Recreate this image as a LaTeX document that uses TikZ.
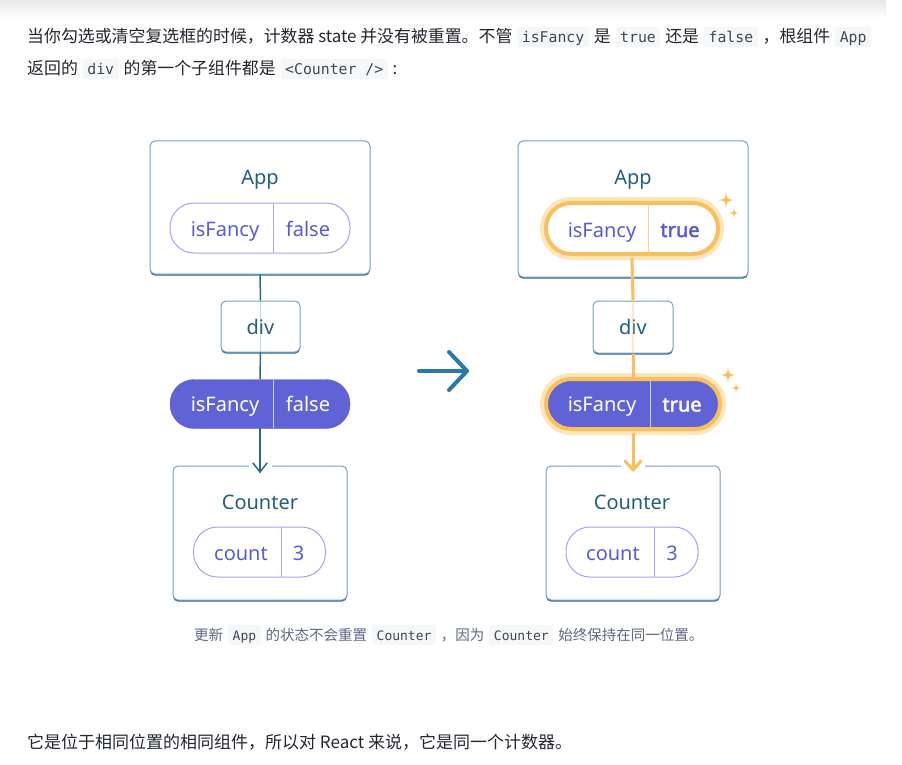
\documentclass[tikz,border=0pt]{standalone}
\usepackage{fontspec}
\usetikzlibrary{shadows}
\newfontfamily\cjk{Noto Sans CJK SC}
\newfontfamily\dg{Noto Sans}
\newfontfamily\dgb[FakeBold=2.2]{Noto Sans}
\newfontfamily\mono{DejaVu Sans Mono}
\definecolor{bodyc}{RGB}{35,39,47}
\definecolor{capc}{RGB}{94,104,126}
\definecolor{codebg}{RGB}{246,247,249}
\definecolor{codec}{RGB}{64,70,84}
\definecolor{boxc}{RGB}{125,160,190}
\definecolor{boxdark}{RGB}{40,105,140}
\definecolor{titlec}{RGB}{35,95,125}
\definecolor{linec}{RGB}{40,105,140}
\definecolor{arrc}{RGB}{42,120,166}
\definecolor{pillc}{RGB}{165,165,232}
\definecolor{purpc}{RGB}{88,92,212}
\definecolor{pfill}{RGB}{95,99,214}
\definecolor{orangec}{RGB}{251,190,92}
\definecolor{glowc}{RGB}{254,230,185}
\newcommand\codeA[1]{\hspace{5pt}{\setlength{\fboxsep}{0pt}\colorbox{codebg}{\hspace{4.5pt}\rule[-4pt]{0pt}{20pt}{\mono\fontsize{14.8}{16}\selectfont\color{codec}#1}\hspace{4.5pt}}}\hspace{5pt}}
\newcommand\codeB[1]{\hspace{5pt}{\setlength{\fboxsep}{0pt}\colorbox{codebg}{\hspace{4.5pt}\rule[-5pt]{0pt}{20pt}{\mono\fontsize{13}{14}\selectfont\color{codec}#1}\hspace{4.5pt}}}\hspace{5pt}}
\tikzset{
  box/.style={draw=boxc, line width=1pt, fill=white, rounded corners=5pt, inner sep=0pt,
    general shadow={fill=boxdark, shadow yshift=-1.6pt}},
  title/.style={font=\dg\fontsize{20}{22}\selectfont, text=titlec, inner sep=0pt, anchor=base},
  pill/.style={draw=pillc, line width=1pt, rounded corners=24pt, inner sep=0pt},
  glowring/.style={preaction={draw=glowc, line width=12pt}, draw=orangec, line width=4pt},
  lbl/.style={font=\dg\fontsize{20}{22}\selectfont, text=purpc, inner sep=0pt, anchor=base},
  lblb/.style={font=\dgb\fontsize{20}{22}\selectfont, text=purpc, inner sep=0pt, anchor=base},
  lblw/.style={font=\dg\fontsize{20}{22}\selectfont, text=white, inner sep=0pt, anchor=base},
  lblwb/.style={font=\dgb\fontsize{20}{22}\selectfont, text=white, inner sep=0pt, anchor=base},
  conn/.style={draw=linec, line width=1.5pt},
  oconn/.style={draw=orangec, line width=3pt},
  sparkle/.pic={\fill[orangec] (0,-1) .. controls (0.12,-0.12) .. (1,0) .. controls (0.12,0.12) .. (0,1) .. controls (-0.12,0.12) .. (-1,0) .. controls (-0.12,-0.12) .. (0,-1) -- cycle;}
}
\begin{document}
\begin{tikzpicture}[x=1pt,y=-1pt]
\useasboundingbox (0,0) rectangle (902,765);
\fill[white] (0,0) rectangle (902,765);
\shade[top color=black!9, bottom color=white] (0,0) rectangle (886,18);

% text
\node[anchor=base west, inner sep=0pt, font=\cjk\fontsize{16.9}{20}\selectfont, text=bodyc] (t1) at (27,43)
 {当你勾选或清空复选框的时候，计数器 state 并没有被重置。不管\codeA{isFancy}是\codeA{true}还是\codeA{false}，根组件\codeA{App}};
\node[anchor=base west, inner sep=0pt, font=\cjk\fontsize{16.9}{20}\selectfont, text=bodyc] (t2) at (27,75)
 {返回的\codeA{div}的第一个子组件都是\codeA{<Counter />}:};
\node[anchor=base west, inner sep=0pt, font=\cjk\fontsize{14.5}{16}\selectfont, text=capc] (cap) at (194,640)
 {更新\codeB{App}的状态不会重置\codeB{Counter}，因为\codeB{Counter}始终保持在同一位置。};
\node[anchor=base west, inner sep=0pt, font=\cjk\fontsize{17}{20}\selectfont, text=bodyc] (t3) at (27,748)
 {它是位于相同位置的相同组件，所以对 React 来说，它是同一个计数器。};

% ---------- left ----------
\node[box, minimum width=220pt, minimum height=133pt] (appL) at (260,207.5) {};
\node[title] (appLt) at (260,184) {App};
\node[pill, minimum width=180pt, minimum height=50pt] (pL1) at (260,228) {};
\draw[pillc, line width=1pt] (273,203) coordinate (dL1a) -- (273,253) coordinate (dL1b);
\node[lbl] (pL1a) at (225,236) {isFancy};
\node[lbl] (pL1b) at (308,236) {false};

\node[box, minimum width=79pt, minimum height=51pt] (divL) at (260.5,326.5) {};
\node[title] (divLt) at (260.5,334) {div};
\draw[conn] (appL.south) -- (divL.north);
\draw[linec, line width=1.2pt, opacity=0.25] (divL.north) -- (divL.south);

\node[fill=pfill, draw=pfill, rounded corners=24pt, inner sep=0pt, minimum width=180pt, minimum height=49pt] (pL2) at (260,404) {};
\draw[white!70!pfill, line width=1pt] (273,380) -- (273,428);
\node[lblw] (pL2a) at (225,411.5) {isFancy};
\node[lblw] (pL2b) at (308,411.5) {false};
\draw[conn] (divL.south) -- (pL2.north);

\node[box, minimum width=174pt, minimum height=134pt] (cL) at (260,533) {};
\node[title] (cLt) at (260,509) {Counter};
\node[pill, minimum width=132pt, minimum height=50pt] (pL3) at (259.5,552) {};
\draw[pillc, line width=1pt] (281,527) -- (281,577);
\node[lbl] (pL3a) at (241,560) {count};
\node[lbl] (pL3b) at (298.5,560) {3};
\fill[white] (249,461) rectangle (272,469);
\coordinate (tipL) at (260,472);
\draw[conn, line cap=round] (pL2.south) -- (tipL);
\draw[conn, line cap=round, line join=round] (tipL) ++(-7,-9) -- (tipL) -- ++(7,-9);

% ---------- middle arrow ----------
\coordinate (ma) at (419,371);
\coordinate (mb) at (467,371);
\draw[arrc, line width=4pt, line cap=round, line join=round] (ma) -- (mb);
\draw[arrc, line width=4pt, line cap=round, line join=round] (mb) ++(-18,-19) -- (mb) -- ++(-18,19);

% ---------- right ----------
\node[box, minimum width=230pt, minimum height=136pt] (appR) at (633,209) {};
\node[title] (appRt) at (633,184) {App};

\node[box, minimum width=80pt, minimum height=52pt] (divR) at (633,327) {};
\node[title] (divRt) at (633,334) {div};

\node[fill=white, glowring, rounded corners=25pt, minimum width=172pt, minimum height=51pt, inner sep=0pt] (pR1) at (632,228.5) {};
\draw[orangec!70, line width=1pt] (648,204) -- (648,253);
\node[lbl] (pR1a) at (602,237) {isFancy};
\node[lblb] (pR1b) at (680,237) {true};

\draw[oconn] (pR1.south) ++(0,2) -- (divR.north);
\draw[orangec, line width=2pt, opacity=0.35] (divR.north) -- (divR.south);

\node[fill=pfill, glowring, rounded corners=25pt, minimum width=174pt, minimum height=50pt, inner sep=0pt] (pR2) at (633,404) {};
\draw[white!70!pfill, line width=1pt] (650,381) -- (650,427);
\node[lblw] (pR2a) at (602,411.5) {isFancy};
\node[lblwb] (pR2b) at (682,411.5) {true};
\draw[oconn] (divR.south) -- (pR2.north);

\node[box, minimum width=174pt, minimum height=134pt] (cR) at (633,533) {};
\node[title] (cRt) at (632,509) {Counter};
\node[pill, minimum width=132pt, minimum height=50pt] (pR3) at (632,552) {};
\draw[pillc, line width=1pt] (654,527) -- (654,577);
\node[lbl] (pR3a) at (613,560) {count};
\node[lbl] (pR3b) at (672,560) {3};
\fill[white] (621,461) rectangle (645,469);
\coordinate (tipR) at (633,470);
\draw[oconn, line cap=round] (pR2.south) ++(0,3) -- (tipR);
\draw[oconn, line cap=round, line join=round] (tipR) ++(-8,-9) -- (tipR) -- ++(8,-9);

% sparkles
\pic[scale=8] (s1) at (726,200) {sparkle};
\pic[scale=5] (s2) at (734,213) {sparkle};
\pic[scale=8] (s3) at (728,375) {sparkle};
\pic[scale=5] (s4) at (736,388) {sparkle};
\end{tikzpicture}
\end{document}
